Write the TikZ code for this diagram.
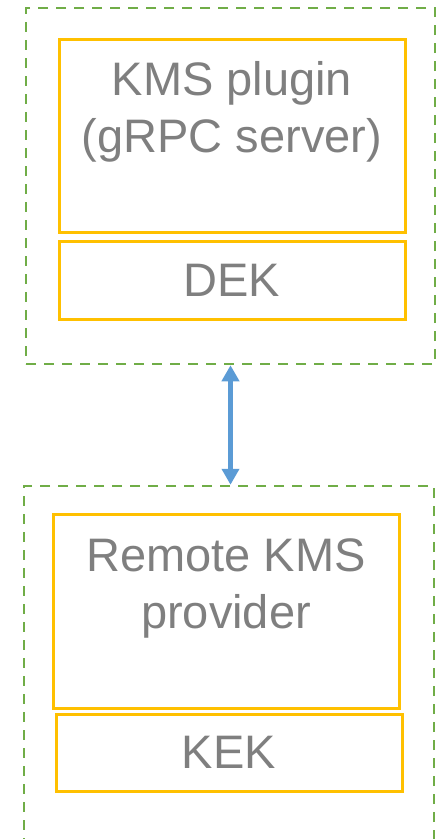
\documentclass[tikz,border=0pt]{standalone}
\usepackage{fontspec}
\setmainfont{Liberation Sans}
\usetikzlibrary{arrows.meta,positioning}
\definecolor{framegreen}{HTML}{70AD47}
\definecolor{boxyellow}{HTML}{FFC000}
\definecolor{linkblue}{HTML}{5B9BD5}
\definecolor{labelgray}{HTML}{7F7F7F}

\begin{document}
\begin{tikzpicture}[x=1pt,y=-1pt,
  frame/.style={draw=framegreen,line width=2.5pt,dash pattern=on 10pt off 8pt,rectangle,inner sep=0pt},
  part/.style={draw=boxyellow,line width=3pt,rectangle,inner sep=0pt},
  caption/.style={text=labelgray,align=center,inner sep=0pt,font=\fontsize{47}{57}\selectfont}]
\useasboundingbox (0,0) rectangle (444,839);
\clip (0,0) rectangle (444,839);

% plugin side
\node[frame,minimum width=409pt,minimum height=356pt] (plugframe) at (230.5,186) {};
\node[part,minimum width=346pt,minimum height=193pt] (plugin) at (232,135.5) {};
\node[part,minimum width=346pt,minimum height=78pt] (dek) at (232,280) {};
\node[caption] (plugintxt) at (232,112) {KMS plugin\\(gRPC server)};
\node[caption] (dektxt) at (dek.center) {DEK};

% provider side
\node[frame,minimum width=410pt,minimum height=394pt] (provframe) at (229,683) {};
\node[part,minimum width=346pt,minimum height=194pt] (provider) at (226,611) {};
\node[part,minimum width=346pt,minimum height=77pt] (kek) at (229,752.5) {};
\node[caption] (providertxt) at (226,588) {Remote KMS\\provider};
\node[caption] (kektxt) at (kek.center) {KEK};

\draw[linkblue,line width=5pt,{Triangle[width=17pt,length=16pt]}-{Triangle[width=17pt,length=16pt]}]
  (plugframe.south) -- (plugframe.south |- provframe.north);

\end{tikzpicture}
\end{document}
